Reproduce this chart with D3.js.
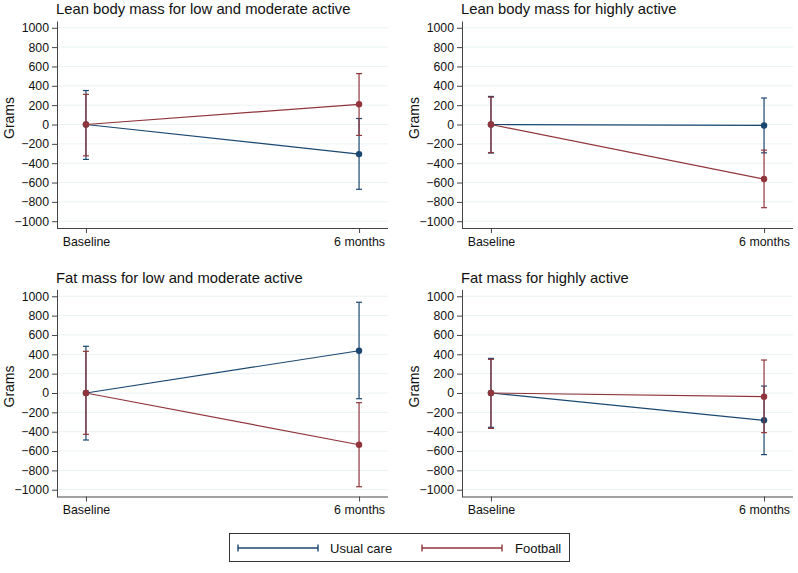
<!DOCTYPE html>
<html>
<head>
<meta charset="utf-8">
<script src="https://cdn.jsdelivr.net/npm/d3@7"></script>
<style>
  html, body { margin: 0; padding: 0; background: #fff; }
  svg { display: block; font-family: "Liberation Sans", Arial, sans-serif; }
</style>
</head>
<body>
<svg id="chart" width="798" height="573"></svg>
<script>
// ---- data ----
const timepoints = ["Baseline", "6 months"];
const panelTitles = [
  "Lean body mass for low and moderate active",
  "Lean body mass for highly active",
  "Fat mass for low and moderate active",
  "Fat mass for highly active"
];
const yTicks = [-1000, -800, -600, -400, -200, 0, 200, 400, 600, 800, 1000];
const seriesNames = ["Usual care", "Football"];

const usualMean  = [[0, -306], [0, -10], [0, 437], [0, -282]];
const usualLower = [[-361, -670], [-295, -293], [-486, -59], [-355, -637]];
const usualUpper = [[351, 62], [290, 274], [483, 938], [358, 72]];

const footballMean  = [[0, 209], [0, -564], [0, -535], [0, -38]];
const footballLower = [[-324, -113], [-290, -860], [-427, -969], [-366, -410]];
const footballUpper = [[312, 526], [283, -265], [431, -100], [348, 341]];

// ---- styling / layout ----
const colors = ["#1a476f", "#90353b"];
const panelLeft = [57, 462, 57, 462];
const panelBottom = [228, 228, 496.5, 496.5];
const plotW = 331, plotH = 207;

const svg = d3.select("#chart");

const series = [
  { name: seriesNames[0], mean: usualMean, lo: usualLower, hi: usualUpper, color: colors[0] },
  { name: seriesNames[1], mean: footballMean, lo: footballLower, hi: footballUpper, color: colors[1] }
];

panelTitles.forEach((title, p) => {
  const x0 = panelLeft[p], y0 = panelBottom[p];
  const x = d3.scalePoint().domain(timepoints).range([x0, x0 + plotW]).padding(0.106);
  const y = d3.scaleLinear().domain([-1070, 1070]).range([y0, y0 - plotH]);
  const g = svg.append("g");

  // gridlines
  g.selectAll("line.grid").data(yTicks).enter().append("line")
    .attr("x1", x0 + 1).attr("x2", x0 + plotW)
    .attr("y1", d => y(d)).attr("y2", d => y(d))
    .attr("stroke", "#eaf2f3").attr("stroke-width", 1);

  // y axis
  const ya = g.append("g").attr("transform", `translate(${x0},0)`)
    .call(d3.axisLeft(y).tickValues(yTicks).tickFormat(d3.format("d"))
      .tickSize(5).tickPadding(3).tickSizeOuter(0));
  ya.select(".domain").attr("stroke", "#444");
  ya.selectAll(".tick line").attr("stroke", "#444");
  ya.selectAll("text").attr("font-size", 12.3).attr("fill", "#111")
    .attr("font-family", "'Liberation Sans', Arial, sans-serif");

  // x axis
  const xa = g.append("g").attr("transform", `translate(0,${y0})`)
    .call(d3.axisBottom(x).tickSize(5).tickPadding(4).tickSizeOuter(0));
  xa.select(".domain").attr("stroke", "#444").attr("d", `M${x0},0.5H${x0 + plotW}`);
  xa.selectAll(".tick line").attr("stroke", "#444");
  xa.selectAll("text").attr("font-size", 12.4).attr("fill", "#111")
    .attr("font-family", "'Liberation Sans', Arial, sans-serif");

  // title
  g.append("text").attr("x", x0 - 1).attr("y", y0 - 214)
    .attr("font-size", 14.8).attr("fill", "#111").text(title);

  // y title
  const gx = x0 - 43, gy = y0 - 110;
  g.append("text").attr("transform", `translate(${gx},${gy}) rotate(-90)`)
    .attr("text-anchor", "middle").attr("font-size", 14).attr("fill", "#111").text("Grams");

  // series
  series.forEach(s => {
    const pts = timepoints.map((t, i) => ({ t, m: s.mean[p][i], lo: s.lo[p][i], hi: s.hi[p][i] }));
    // error bars
    pts.forEach(d => {
      const cx = x(d.t);
      g.append("line").attr("x1", cx).attr("x2", cx).attr("y1", y(d.lo)).attr("y2", y(d.hi))
        .attr("stroke", s.color).attr("stroke-width", 1.2);
      [d.lo, d.hi].forEach(v => {
        g.append("line").attr("x1", cx - 3).attr("x2", cx + 3).attr("y1", y(v)).attr("y2", y(v))
          .attr("stroke", s.color).attr("stroke-width", 1.2);
      });
    });
    // connecting line
    g.append("path").datum(pts)
      .attr("d", d3.line().x(d => x(d.t)).y(d => y(d.m)))
      .attr("fill", "none").attr("stroke", s.color).attr("stroke-width", 1.2);
    // markers
    g.selectAll(null).data(pts).enter().append("circle")
      .attr("cx", d => x(d.t)).attr("cy", d => y(d.m)).attr("r", 3.2)
      .attr("fill", s.color);
  });
});

// ---- legend ----
const lg = svg.append("g");
lg.append("rect").attr("x", 229.5).attr("y", 533.5).attr("width", 340).attr("height", 28)
  .attr("fill", "#fff").attr("stroke", "#333").attr("stroke-width", 1);
const legendSampleX = [238, 422];
const legendTextX = [330, 515];
series.forEach((s, i) => {
  const ly = 548;
  const x1 = legendSampleX[i], x2 = legendSampleX[i] + 80;
  lg.append("line").attr("x1", x1).attr("x2", x2).attr("y1", ly).attr("y2", ly)
    .attr("stroke", s.color).attr("stroke-width", 1.4);
  [x1, x2].forEach(xx => {
    lg.append("line").attr("x1", xx).attr("x2", xx).attr("y1", ly - 3.5).attr("y2", ly + 3.5)
      .attr("stroke", s.color).attr("stroke-width", 1.4);
  });
  lg.append("text").attr("x", legendTextX[i]).attr("y", ly + 4.5)
    .attr("font-size", 13).attr("fill", "#111").text(s.name);
});
</script>
</body>
</html>
